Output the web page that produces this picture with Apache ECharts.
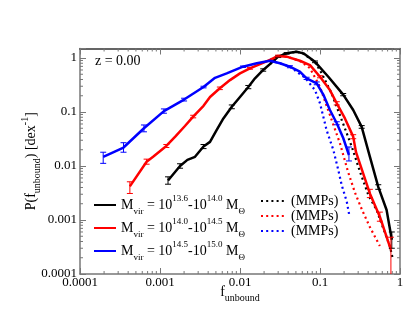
<!DOCTYPE html>
<html>
<head>
<meta charset="utf-8">
<title>P(f_unbound)</title>
<script src="https://cdn.jsdelivr.net/npm/echarts@6/dist/echarts.min.js"></script>
<style>
html,body{margin:0;padding:0;background:#fff;}
#main{width:415px;height:321px;}
</style>
</head>
<body>
<div id="main"></div>
<script>
// axis ranges and tick labels
const X_MIN = 0.0001, X_MAX = 1;
const Y_MIN = 0.0001, Y_MAX = 1.5;
const xTickLabels = ['0.0001', '0.001', '0.01', '0.1', '1'];
const yTickLabels = ['0.0001', '0.001', '0.01', '0.1', '1'];

// [f_unbound, P]
const black = [[0.00126,0.0054],[0.00178,0.010],[0.0022,0.013],[0.00274,0.0148],[0.0035,0.023],[0.00422,0.028],
  [0.0051,0.046],[0.0062,0.076],[0.0079,0.125],[0.01,0.19],[0.0127,0.29],[0.0154,0.42],[0.0195,0.60],[0.0237,0.77],
  [0.030,1.06],[0.0383,1.22],[0.051,1.31],[0.062,1.22],[0.0866,0.85],[0.127,0.45],[0.195,0.21],[0.26,0.109],
  [0.332,0.053],[0.42,0.0149],[0.535,0.0041],[0.68,0.00153],[0.79,0.00043]];
const red = [[0.00042,0.0042],[0.00068,0.012],[0.00082,0.0149],[0.0012,0.0235],[0.00155,0.035],[0.00205,0.055],
  [0.0026,0.082],[0.0035,0.13],[0.00422,0.19],[0.0056,0.275],[0.0075,0.39],[0.01,0.52],[0.0133,0.645],[0.0178,0.77],
  [0.0237,0.92],[0.030,1.09],[0.0383,1.06],[0.056,0.89],[0.075,0.74],[0.1,0.45],[0.133,0.255],[0.162,0.145],
  [0.205,0.076],[0.26,0.035],[0.282,0.018],[0.42,0.0031],[0.56,0.00115],[0.77,0.00028]];
const blue = [[0.000195,0.0148],[0.00035,0.022],[0.00063,0.050],[0.00112,0.104],[0.0020,0.17],[0.0035,0.29],
  [0.00487,0.43],[0.00682,0.52],[0.0109,0.69],[0.0162,0.80],[0.0237,0.89],[0.0316,0.80],[0.042,0.69],[0.056,0.56],
  [0.068,0.42],[0.091,0.34],[0.11,0.21],[0.133,0.109],[0.162,0.062],[0.195,0.033],[0.23,0.016]];

// most massive progenitors (dotted), only where they leave the solid curves
const blackMMP = [[0.0237,0.77],[0.030,1.06],[0.0383,1.22],[0.051,1.31],[0.062,1.2],
  [0.0866,0.84],[0.105,0.52],[0.14,0.22],[0.187,0.071],[0.249,0.023],[0.316,0.00785],[0.402,0.0029],
  [0.511,0.00153],[0.618,0.0007],[0.75,0.00032],[0.82,0.00018]];
const redMMP = [[0.0237,0.92],[0.030,1.09],[0.0383,1.06],[0.056,0.88],
  [0.075,0.65],[0.1,0.29],[0.133,0.088],[0.178,0.026],[0.224,0.0078],[0.274,0.0032],[0.335,0.00154],
  [0.42,0.00074],[0.56,0.00033]];
const blueMMP = [[0.0237,0.89],[0.0316,0.80],[0.042,0.69],
  [0.065,0.43],[0.0866,0.255],[0.1,0.145],[0.121,0.046],[0.147,0.0197],[0.169,0.0085],[0.187,0.0044],
  [0.216,0.0022],[0.232,0.00124]];

// error bars [f, low, high]
const blackErr = [[0.00126,0.0046,0.0063],[0.00178,0.0091,0.011],[0.0035,0.021,0.025],[0.0079,0.115,0.135],
  [0.0127,0.27,0.31],[0.0195,0.57,0.63],[0.030,1.02,1.10],[0.0383,1.18,1.26],[0.0866,0.82,0.88],
  [0.195,0.20,0.22],[0.332,0.050,0.056],[0.535,0.0037,0.0045],[0.79,0.00030,0.00060]];
const redErr = [[0.00042,0.0031,0.0051],[0.00068,0.0108,0.0134],[0.0012,0.022,0.025],[0.0026,0.078,0.087],
  [0.0056,0.26,0.29],[0.0133,0.62,0.67],[0.030,1.05,1.13],[0.1,0.43,0.47],[0.162,0.135,0.155],
  [0.26,0.032,0.038],[0.42,0.0026,0.0037],[0.56,0.00095,0.0014],[0.77,0.00005,0.00048]];
const blueErr = [[0.000195,0.0112,0.018],[0.00035,0.018,0.027],[0.00063,0.043,0.0575],[0.00112,0.095,0.114],
  [0.0020,0.16,0.18],[0.0035,0.28,0.30],[0.0109,0.67,0.71],[0.042,0.66,0.72],[0.068,0.40,0.44],
  [0.091,0.32,0.36],[0.162,0.058,0.066],[0.23,0.0124,0.0225]];

const FONT = 'Liberation Serif';
const AXIS_COLOR = '#777';

const rich = {
  b: {fontFamily: FONT, fontSize: 14, lineHeight: 22, color: '#000'},
  sub: {fontFamily: FONT, fontSize: 9, verticalAlign: 'bottom', color: '#000'},
  sup: {fontFamily: FONT, fontSize: 9, verticalAlign: 'top', color: '#000'}
};
const nameRich = {
  b: {fontFamily: FONT, fontSize: 14, lineHeight: 22, color: '#000'},
  sub: {fontFamily: FONT, fontSize: 10, verticalAlign: 'bottom', color: '#000'},
  sup: {fontFamily: FONT, fontSize: 10, verticalAlign: 'top', color: '#000'}
};

const legendText = {
  bin1: '{b|M}{sub|vir}{b| = 10}{sup|13.6}{b|-10}{sup|14.0}{b| M}{sub|Θ}',
  bin2: '{b|M}{sub|vir}{b| = 10}{sup|14.0}{b|-10}{sup|14.5}{b| M}{sub|Θ}',
  bin3: '{b|M}{sub|vir}{b| = 10}{sup|14.5}{b|-10}{sup|15.0}{b| M}{sub|Θ}'
};

//only label whole decades
function decadeLabel(labels){
  return function(v){
    const e = Math.log10(v), r = Math.round(e);
    return Math.abs(e - r) < 1e-6 ? (labels[r + 4] || '') : '';
  };
}

//minor tick positions 2..9 x 10^k
function minorTicks(fromExp, toExp, max){
  const out = [];
  for (let k = fromExp; k < toExp; k++) {
    for (let m = 2; m <= 9; m++) {
      const v = m * Math.pow(10, k);
      if (v < max) out.push(v);
    }
  }
  return out;
}
const xMinor = minorTicks(-4, 0, X_MAX);
const yMinor = minorTicks(-4, 1, Y_MAX);

function tickLine(x1, y1, x2, y2){
  return {type: 'line', shape: {x1, y1, x2, y2}, style: {stroke: AXIS_COLOR, lineWidth: 1}};
}

function lineSeries(name, data, color, dotted){
  return {
    name, type: 'line', data, symbol: 'none',
    lineStyle: {color, width: dotted ? 2.2 : 2.5, type: dotted ? [2, 3.2] : 'solid', cap: 'butt'},
    itemStyle: {color},
    z: dotted ? 2 : 3
  };
}

function errSeries(data, color){
  return {
    type: 'custom', data, silent: true, z: 4,
    encode: {x: 0, y: [1, 2]},
    renderItem(params, api){
      const f = api.value(0);
      const lo = api.value(1), hi = api.value(2);
      const p1 = api.coord([f, Math.max(lo, Y_MIN)]), p2 = api.coord([f, hi]);
      const w = 3;
      const st = {stroke: color, lineWidth: 1};
      const kids = [
        {type: 'line', shape: {x1: p1[0], y1: p1[1], x2: p2[0], y2: p2[1]}, style: st},
        {type: 'line', shape: {x1: p2[0] - w, y1: p2[1], x2: p2[0] + w, y2: p2[1]}, style: st}
      ];
      if (lo > Y_MIN) kids.push({type: 'line', shape: {x1: p1[0] - w, y1: p1[1], x2: p1[0] + w, y2: p1[1]}, style: st});
      return {type: 'group', children: kids};
    }
  };
}

const axisLine = {lineStyle: {color: AXIS_COLOR, width: 1.5}};
const axisTick = {inside: true, length: 6, lineStyle: {color: AXIS_COLOR}};

const legendBase = {
  orient: 'vertical', top: 194, padding: 0, itemHeight: 10, itemGap: 1,
  selectedMode: false, itemStyle: {opacity: 0}, textStyle: {rich}
};

const chart = echarts.init(document.getElementById('main'));
chart.setOption({
  animation: false,
  title: {
    text: 'z = 0.00', left: 95, top: 54, padding: 0,
    textStyle: {fontFamily: FONT, fontSize: 14, fontWeight: 'normal', color: '#000'}
  },
  grid: {left: 80, right: 15, top: 48.5, bottom: 47},
  legend: [
    Object.assign({}, legendBase, {
      data: ['bin1', 'bin2', 'bin3'], left: 93, itemWidth: 22,
      formatter: n => legendText[n]
    }),
    Object.assign({}, legendBase, {
      data: ['bin1 MMP', 'bin2 MMP', 'bin3 MMP'], left: 260, itemWidth: 25,
      formatter: () => '{b|(MMPs)}'
    })
  ],
  xAxis: [
    {
      type: 'log', min: X_MIN, max: X_MAX, position: 'bottom',
      name: '{b|f}{sub|unbound}', nameLocation: 'middle', nameGap: 7, nameMoveOverlap: false,
      nameTextStyle: {rich: nameRich},
      axisLine, axisTick, splitLine: {show: false},
      axisLabel: {fontFamily: FONT, fontSize: 13, color: '#000', margin: 2, hideOverlap: false,
        showMinLabel: true, showMaxLabel: true, formatter: decadeLabel(xTickLabels)}
    },
    {
      type: 'log', min: X_MIN, max: X_MAX, position: 'top',
      axisLine: {lineStyle: {color: '#333', width: 1.5}}, axisTick, splitLine: {show: false},
      axisLabel: {show: false}
    }
  ],
  yAxis: [
    {
      type: 'log', min: Y_MIN, max: Y_MAX, position: 'left',
      name: '{b|P(f}{sub|unbound}{b|) [dex}{sup|-1}{b|]}', nameLocation: 'middle', nameRotate: 90,
      nameGap: 38, nameMoveOverlap: false,
      nameTextStyle: {rich: nameRich},
      axisLine, axisTick, splitLine: {show: false},
      axisLabel: {fontFamily: FONT, fontSize: 13, color: '#000', margin: 3, hideOverlap: false,
        showMinLabel: true, showMaxLabel: true, formatter: decadeLabel(yTickLabels)}
    },
    {
      type: 'log', min: Y_MIN, max: Y_MAX, position: 'right',
      axisLine, axisTick, splitLine: {show: false}, axisLabel: {show: false}
    }
  ],
  series: [
    // minor ticks on all four sides
    {
      type: 'custom', silent: true, z: 1, data: xMinor.map(v => [v, Y_MIN]), encode: {x: 0, y: 1},
      renderItem(params, api){
        const b = api.coord([api.value(0), Y_MIN]), t = api.coord([api.value(0), Y_MAX]);
        return {type: 'group', children: [tickLine(b[0], b[1], b[0], b[1] - 3), tickLine(t[0], t[1], t[0], t[1] + 3)]};
      }
    },
    {
      type: 'custom', silent: true, z: 1, data: yMinor.map(v => [X_MIN, v]), encode: {x: 0, y: 1},
      renderItem(params, api){
        const l = api.coord([X_MIN, api.value(1)]), r = api.coord([X_MAX, api.value(1)]);
        return {type: 'group', children: [tickLine(l[0], l[1], l[0] + 3, l[1]), tickLine(r[0], r[1], r[0] - 3, r[1])]};
      }
    },
    lineSeries('bin1 MMP', blackMMP, '#000000', true),
    lineSeries('bin2 MMP', redMMP, '#ff0000', true),
    lineSeries('bin3 MMP', blueMMP, '#0000ff', true),
    lineSeries('bin1', black, '#000000', false),
    lineSeries('bin2', red, '#ff0000', false),
    lineSeries('bin3', blue, '#0000ff', false),
    errSeries(blackErr, '#000000'),
    errSeries(redErr, '#ff0000'),
    errSeries(blueErr, '#0000ff')
  ]
});
</script>
</body>
</html>
